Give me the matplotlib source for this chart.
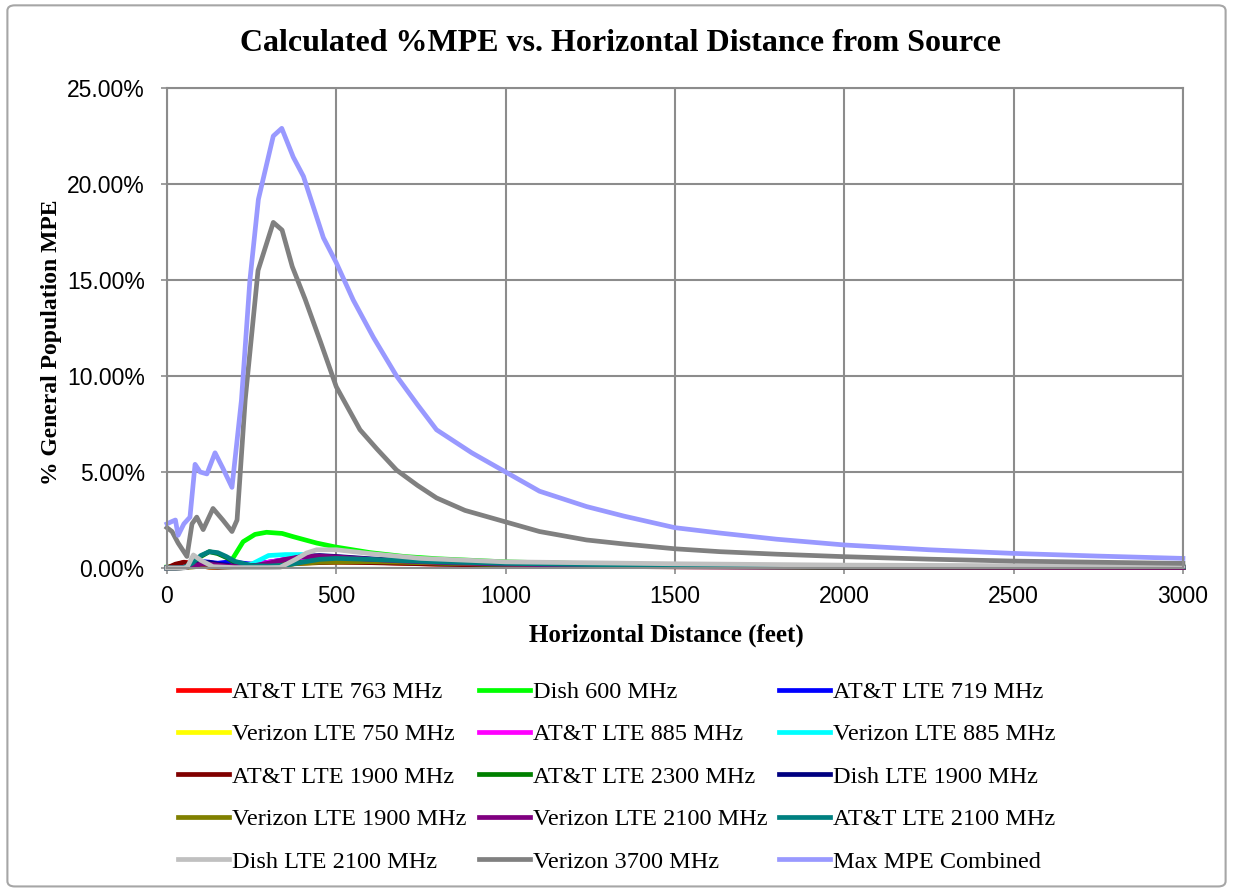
import numpy as np
import matplotlib
matplotlib.use('Agg')
import matplotlib.pyplot as plt
from matplotlib.patches import FancyBboxPatch
from matplotlib.ticker import FuncFormatter, MultipleLocator

# ---- data (percent of general population MPE) ----
# shared distance grid for the small carrier curves
x_small = [0, 25, 50, 75, 100, 125, 150, 175, 200, 250, 300, 350, 400, 450,
           500, 600, 700, 800, 1000, 1250, 1500, 2000, 2500, 3000]

att_763 = [0.0, 0.15, 0.3, 0.25, 0.1, 0.05, 0.05, 0.1, 0.15, 0.2, 0.3, 0.35,
           0.4, 0.4, 0.38, 0.3, 0.25, 0.2, 0.14, 0.1, 0.07, 0.04, 0.03, 0.02]
att_719 = [0.0, 0.05, 0.1, 0.2, 0.35, 0.3, 0.25, 0.3, 0.3, 0.2, 0.3, 0.45,
           0.55, 0.55, 0.5, 0.4, 0.32, 0.25, 0.17, 0.12, 0.08, 0.05, 0.03, 0.02]
vzw_750 = [0.0, 0.02, 0.05, 0.1, 0.1, 0.05, 0.03, 0.05, 0.08, 0.12, 0.18, 0.22,
           0.25, 0.28, 0.3, 0.3, 0.27, 0.22, 0.16, 0.11, 0.08, 0.05, 0.03, 0.02]
att_885 = [0.0, 0.05, 0.1, 0.15, 0.2, 0.15, 0.1, 0.12, 0.15, 0.15, 0.3, 0.45,
           0.55, 0.5, 0.45, 0.35, 0.28, 0.22, 0.15, 0.1, 0.07, 0.04, 0.03, 0.02]
vzw_885 = [0.0, 0.03, 0.05, 0.1, 0.15, 0.1, 0.05, 0.05, 0.05, 0.2, 0.65, 0.7,
           0.7, 0.55, 0.45, 0.35, 0.28, 0.22, 0.15, 0.1, 0.07, 0.04, 0.03, 0.02]
att_1900 = [0.0, 0.2, 0.3, 0.2, 0.1, 0.05, 0.03, 0.03, 0.05, 0.1, 0.15, 0.2,
            0.25, 0.28, 0.3, 0.28, 0.24, 0.2, 0.13, 0.09, 0.06, 0.04, 0.03, 0.02]
att_2300 = [0.0, 0.0, 0.02, 0.2, 0.6, 0.85, 0.75, 0.55, 0.3, 0.1, 0.1, 0.15,
            0.3, 0.4, 0.45, 0.4, 0.32, 0.26, 0.18, 0.12, 0.09, 0.05, 0.04, 0.03]
dish_1900 = [0.0, 0.0, 0.02, 0.1, 0.25, 0.3, 0.2, 0.15, 0.1, 0.1, 0.2, 0.4,
             0.6, 0.65, 0.6, 0.48, 0.38, 0.3, 0.2, 0.14, 0.1, 0.06, 0.04, 0.03]
vzw_1900 = [0.0, 0.0, 0.02, 0.05, 0.1, 0.1, 0.08, 0.05, 0.05, 0.08, 0.12, 0.18,
            0.25, 0.3, 0.32, 0.33, 0.3, 0.26, 0.19, 0.13, 0.09, 0.06, 0.04, 0.03]
vzw_2100 = [0.0, 0.0, 0.02, 0.1, 0.2, 0.2, 0.15, 0.1, 0.08, 0.1, 0.25, 0.45,
            0.6, 0.62, 0.58, 0.45, 0.36, 0.29, 0.2, 0.14, 0.1, 0.06, 0.04, 0.03]
att_2100 = [0.0, 0.0, 0.02, 0.25, 0.65, 0.85, 0.8, 0.6, 0.35, 0.12, 0.1, 0.15,
            0.3, 0.45, 0.5, 0.45, 0.38, 0.32, 0.24, 0.18, 0.14, 0.1, 0.08, 0.07]

x_dish600 = [0, 50, 100, 150, 180, 191, 225, 260, 294, 340, 373, 442, 496,
             600, 700, 800, 1000, 1250, 1500, 2000, 2500, 3000]
dish_600 = [0.05, 0.1, 0.15, 0.2, 0.25, 0.4, 1.37, 1.75, 1.86, 1.8, 1.63, 1.3,
            1.1, 0.8, 0.6, 0.48, 0.32, 0.22, 0.16, 0.1, 0.07, 0.05]

x_dish2100 = [0, 50, 60, 78, 100, 136, 200, 300, 334, 380, 412, 442, 500,
              600, 750, 1000, 1500, 2000, 2500, 3000]
dish_2100 = [0.0, 0.0, 0.05, 0.68, 0.4, 0.07, 0.02, 0.02, 0.03, 0.45, 0.78,
             0.95, 0.95, 0.75, 0.5, 0.32, 0.22, 0.15, 0.12, 0.1]

x_vzw3700 = [0, 15, 33, 59, 74, 88, 107, 136, 165, 192, 207, 231, 269, 314,
             340, 370, 408, 453, 500, 570, 620, 678, 740, 796, 880, 1000,
             1100, 1239, 1350, 1500, 1633, 1800, 2000, 2250, 2500, 2750, 3000]
vzw_3700 = [2.1, 1.9, 1.3, 0.6, 2.3, 2.65, 2.0, 3.1, 2.5, 1.9, 2.5, 8.75,
            15.5, 18.0, 17.6, 15.7, 14.0, 11.8, 9.44, 7.2, 6.2, 5.1, 4.3,
            3.65, 3.0, 2.4, 1.9, 1.46, 1.25, 1.0, 0.85, 0.72, 0.59, 0.46,
            0.36, 0.3, 0.24]

x_max = [0, 12, 25, 33, 50, 68, 83, 98, 118, 142, 165, 192, 220, 245, 270,
         314, 339, 373, 403, 462, 500, 550, 610, 678, 740, 796, 900, 1000,
         1100, 1239, 1350, 1500, 1633, 1800, 2000, 2250, 2500, 2750, 3000]
max_combined = [2.3, 2.4, 2.5, 1.7, 2.3, 2.65, 5.4, 5.0, 4.9, 6.0, 5.2, 4.2,
                8.75, 15.0, 19.2, 22.5, 22.9, 21.4, 20.4, 17.2, 15.9, 13.96,
                12.0, 10.0, 8.5, 7.2, 6.0, 5.0, 4.0, 3.2, 2.7, 2.1, 1.82,
                1.5, 1.2, 0.95, 0.76, 0.62, 0.5]

series = [
    ('AT&T LTE 763 MHz', x_small, att_763, '#FF0000'),
    ('Dish 600 MHz', x_dish600, dish_600, '#00FF00'),
    ('AT&T LTE 719 MHz', x_small, att_719, '#0000FF'),
    ('Verizon LTE 750 MHz', x_small, vzw_750, '#FFFF00'),
    ('AT&T LTE 885 MHz', x_small, att_885, '#FF00FF'),
    ('Verizon LTE 885 MHz', x_small, vzw_885, '#00FFFF'),
    ('AT&T LTE 1900 MHz', x_small, att_1900, '#800000'),
    ('AT&T LTE 2300 MHz', x_small, att_2300, '#008000'),
    ('Dish LTE 1900 MHz', x_small, dish_1900, '#000080'),
    ('Verizon LTE 1900 MHz', x_small, vzw_1900, '#808000'),
    ('Verizon LTE 2100 MHz', x_small, vzw_2100, '#800080'),
    ('AT&T LTE 2100 MHz', x_small, att_2100, '#008080'),
    ('Dish LTE 2100 MHz', x_dish2100, dish_2100, '#C0C0C0'),
    ('Verizon 3700 MHz', x_vzw3700, vzw_3700, '#808080'),
    ('Max MPE Combined', x_max, max_combined, '#9999FF'),
]

serif = ['Liberation Serif', 'DejaVu Serif']
sans = ['Liberation Sans', 'DejaVu Sans']
grid_col = '#8C8C8C'

fig = plt.figure(figsize=(12.33, 8.9), dpi=100)
ax = fig.add_axes([0.1354, 0.3618, 0.824, 0.5393])

handles = []
for label, xs, ys, col in series:
    h, = ax.plot(xs, ys, color=col, lw=3.4, label=label, clip_on=False,
                 solid_joinstyle='round')
    handles.append(h)

ax.set_xlim(0, 3000)
ax.set_ylim(0, 25)
ax.xaxis.set_major_locator(MultipleLocator(500))
ax.yaxis.set_major_locator(MultipleLocator(5))
ax.yaxis.set_major_formatter(FuncFormatter(lambda v, p: f'{v:.2f}%'))
ax.grid(True, color=grid_col, lw=1.5)
ax.set_axisbelow(True)
for s in ax.spines.values():
    s.set_color(grid_col)
    s.set_linewidth(1.5)
ax.tick_params(axis='both', colors=grid_col, length=4, width=1.2,
               labelcolor='black', labelsize=16.5)
ax.tick_params(axis='y', pad=12)
ax.tick_params(axis='x', pad=8)
for t in ax.get_xticklabels() + ax.get_yticklabels():
    t.set_family(sans)

fig.text(0.503, 0.951, 'Calculated %MPE vs. Horizontal Distance from Source',
         family=serif, fontsize=23, fontweight='bold', ha='center',
         va='center')
ax.set_xlabel('Horizontal Distance (feet)', family=serif, fontsize=18,
              fontweight='bold')
ax.xaxis.set_label_coords(0.492, -0.115)
ax.set_ylabel('% General Population MPE', family=serif, fontsize=17,
              fontweight='bold')
ax.yaxis.set_label_coords(-0.103, 0.47)

# legend is laid out row by row in the original; matplotlib fills by column
order = [r * 3 + c for c in range(3) for r in range(5)]
fig.legend([handles[i] for i in order], [series[i][0] for i in order],
           loc='upper left', bbox_to_anchor=(178 / 1233, 1 - 681 / 890),
           ncol=3, frameon=False, prop={'family': serif, 'size': 17.5},
           handlelength=2.1, handletextpad=0.12, columnspacing=0.5,
           labelspacing=0.84, borderpad=0, borderaxespad=0)

# chart-area border
fig.patches.append(FancyBboxPatch((0.006, 0.004), 0.988, 0.99,
                                  boxstyle='round,pad=0,rounding_size=0.006',
                                  transform=fig.transFigure, fill=False,
                                  edgecolor='#A6A6A6', lw=1.5))

fig.savefig('out.png', dpi=100)
plt.close(fig)
